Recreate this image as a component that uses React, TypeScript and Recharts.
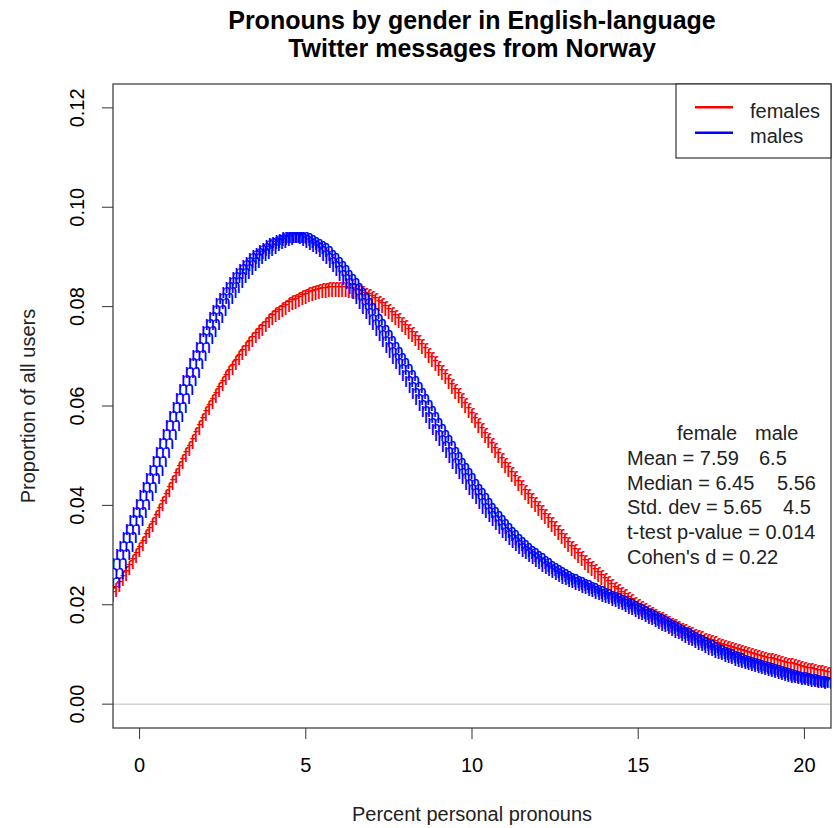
import { ScatterChart, Scatter, XAxis, YAxis, ReferenceLine } from 'recharts';

const FONT = '"Liberation Sans", Arial, sans-serif';

// density grid: x runs from -0.8 in steps of 0.1 (217 points)
const X_START = -0.8;
const X_STEP = 0.1;

// females, percent personal pronouns density
const FEMALE_DENSITY = [
  0.0220, 0.0230, 0.0241, 0.0252, 0.0263, 0.0274, 0.0286, 0.0298,
  0.0310, 0.0323, 0.0336, 0.0349, 0.0362, 0.0375, 0.0389, 0.0403, 0.0417, 0.0431,
  0.0445, 0.0459, 0.0473, 0.0487, 0.0501, 0.0515, 0.0529, 0.0543, 0.0557, 0.0571,
  0.0585, 0.0597, 0.0609, 0.0621, 0.0633, 0.0645, 0.0656, 0.0667, 0.0677, 0.0688,
  0.0698, 0.0707, 0.0716, 0.0725, 0.0734, 0.0742, 0.0749, 0.0756, 0.0764, 0.0771,
  0.0777, 0.0783, 0.0788, 0.0793, 0.0798, 0.0803, 0.0807, 0.0810, 0.0814, 0.0817,
  0.0820, 0.0823, 0.0825, 0.0828, 0.0830, 0.0832, 0.0833, 0.0834, 0.0835, 0.0835,
  0.0835, 0.0835, 0.0834, 0.0833, 0.0832, 0.0830, 0.0828, 0.0825, 0.0822, 0.0819,
  0.0815, 0.0811, 0.0806, 0.0801, 0.0796, 0.0790, 0.0784, 0.0778, 0.0771, 0.0764,
  0.0757, 0.0750, 0.0743, 0.0735, 0.0727, 0.0719, 0.0711, 0.0702, 0.0694, 0.0685,
  0.0676, 0.0667, 0.0658, 0.0648, 0.0639, 0.0629, 0.0620, 0.0610, 0.0600, 0.0590,
  0.0580, 0.0570, 0.0560, 0.0550, 0.0540, 0.0530, 0.0520, 0.0510, 0.0500, 0.0490,
  0.0480, 0.0471, 0.0462, 0.0453, 0.0444, 0.0435, 0.0426, 0.0417, 0.0409, 0.0401,
  0.0393, 0.0385, 0.0377, 0.0369, 0.0361, 0.0353, 0.0345, 0.0337, 0.0329, 0.0321,
  0.0313, 0.0306, 0.0299, 0.0292, 0.0285, 0.0278, 0.0272, 0.0266, 0.0260, 0.0254,
  0.0248, 0.0242, 0.0236, 0.0231, 0.0226, 0.0221, 0.0216, 0.0211, 0.0206, 0.0201,
  0.0196, 0.0192, 0.0188, 0.0184, 0.0180, 0.0176, 0.0172, 0.0169, 0.0165, 0.0162,
  0.0158, 0.0155, 0.0152, 0.0148, 0.0145, 0.0142, 0.0139, 0.0136, 0.0133, 0.0131,
  0.0128, 0.0126, 0.0123, 0.0121, 0.0118, 0.0116, 0.0114, 0.0111, 0.0109, 0.0107,
  0.0105, 0.0103, 0.0101, 0.0099, 0.0097, 0.0095, 0.0094, 0.0092, 0.0090, 0.0088,
  0.0087, 0.0085, 0.0083, 0.0081, 0.0080, 0.0078, 0.0077, 0.0075, 0.0074, 0.0072,
  0.0070, 0.0068, 0.0067, 0.0065, 0.0064, 0.0063, 0.0061, 0.0060, 0.0059,
];

// males
const MALE_DENSITY = [
  0.0245, 0.0263, 0.0282, 0.0300, 0.0317, 0.0334, 0.0351, 0.0368,
  0.0385, 0.0402, 0.0419, 0.0436, 0.0453, 0.0470, 0.0488, 0.0506, 0.0524, 0.0542,
  0.0560, 0.0578, 0.0596, 0.0614, 0.0632, 0.0650, 0.0667, 0.0684, 0.0701, 0.0718,
  0.0735, 0.0749, 0.0763, 0.0777, 0.0791, 0.0805, 0.0816, 0.0827, 0.0837, 0.0848,
  0.0858, 0.0866, 0.0874, 0.0882, 0.0889, 0.0896, 0.0902, 0.0907, 0.0912, 0.0917,
  0.0922, 0.0926, 0.0929, 0.0932, 0.0935, 0.0938, 0.0939, 0.0939, 0.0939, 0.0938,
  0.0936, 0.0933, 0.0929, 0.0925, 0.0921, 0.0916, 0.0910, 0.0903, 0.0896, 0.0888,
  0.0880, 0.0872, 0.0863, 0.0854, 0.0845, 0.0835, 0.0825, 0.0815, 0.0805, 0.0795,
  0.0785, 0.0774, 0.0763, 0.0752, 0.0741, 0.0730, 0.0718, 0.0707, 0.0695, 0.0684,
  0.0672, 0.0660, 0.0648, 0.0636, 0.0624, 0.0612, 0.0600, 0.0588, 0.0576, 0.0564,
  0.0552, 0.0541, 0.0529, 0.0518, 0.0506, 0.0495, 0.0484, 0.0474, 0.0463, 0.0453,
  0.0442, 0.0432, 0.0423, 0.0413, 0.0404, 0.0394, 0.0386, 0.0377, 0.0369, 0.0360,
  0.0352, 0.0345, 0.0338, 0.0331, 0.0324, 0.0318, 0.0313, 0.0307, 0.0302, 0.0297,
  0.0292, 0.0287, 0.0282, 0.0277, 0.0272, 0.0268, 0.0264, 0.0260, 0.0256, 0.0253,
  0.0250, 0.0247, 0.0244, 0.0241, 0.0238, 0.0235, 0.0232, 0.0229, 0.0226, 0.0223,
  0.0220, 0.0217, 0.0214, 0.0211, 0.0208, 0.0205, 0.0202, 0.0199, 0.0195, 0.0192,
  0.0189, 0.0186, 0.0182, 0.0179, 0.0175, 0.0172, 0.0169, 0.0165, 0.0162, 0.0158,
  0.0155, 0.0151, 0.0148, 0.0144, 0.0141, 0.0137, 0.0134, 0.0130, 0.0127, 0.0123,
  0.0120, 0.0117, 0.0113, 0.0110, 0.0107, 0.0104, 0.0101, 0.0099, 0.0096, 0.0093,
  0.0091, 0.0088, 0.0086, 0.0083, 0.0081, 0.0079, 0.0077, 0.0075, 0.0073, 0.0071,
  0.0069, 0.0067, 0.0065, 0.0063, 0.0061, 0.0059, 0.0058, 0.0056, 0.0054, 0.0053,
  0.0051, 0.0050, 0.0048, 0.0047, 0.0045, 0.0044, 0.0043, 0.0042, 0.0041,
];

const X_DOMAIN = [-0.8, 20.8];
const Y_DOMAIN = [-0.0048, 0.1248];
const X_TICKS = [0, 5, 10, 15, 20];
const Y_TICKS = [0, 0.02, 0.04, 0.06, 0.08, 0.1, 0.12];

const TITLE = ['Pronouns by gender in English-language', 'Twitter messages from Norway'];
const LEGEND = [
  { label: 'females', color: '#ff0000' },
  { label: 'males', color: '#0000ff' },
];

// summary table: left text, plus the male column where there is one
const STATS_HEADER = ['female', 'male'];
const STATS = [
  { text: 'Mean = 7.59', male: '6.5', maleX: 759 },
  { text: 'Median = 6.45', male: '5.56', maleX: 777 },
  { text: 'Std. dev = 5.65', male: '4.5', maleX: 783 },
  { text: 't-test p-value = 0.014' },
  { text: "Cohen's d = 0.22" },
];

const toPoints = (vals: number[]) =>
  vals.map((y, i) => ({ x: +(X_START + i * X_STEP).toFixed(1), y }));

const females = toPoints(FEMALE_DENSITY);
const males = toPoints(MALE_DENSITY);

// plot symbol drawn as a letter centred on the point (like pch = "f")
const letterShape = (ch: string, color: string, lift: number) => (props: any) => (
  <text
    x={props.cx}
    y={props.cy + lift}
    textAnchor="middle"
    fontSize={20}
    fontFamily={FONT}
    fill={color}
  >
    {ch}
  </text>
);

const XTick = (p: any) => (
  <text x={p.x} y={p.y + 24} textAnchor="middle" dominantBaseline="central"
    fontSize={20} fontFamily={FONT} fill="#000">
    {p.payload.value}
  </text>
);

const YTick = (p: any) => {
  const cx = p.x - 23;
  return (
    <text x={cx} y={p.y} transform={`rotate(-90 ${cx} ${p.y})`} textAnchor="middle"
      dominantBaseline="central" fontSize={20} fontFamily={FONT} fill="#000">
      {Number(p.payload.value).toFixed(2)}
    </text>
  );
};

export default function App() {
  const W = 836;
  const H = 828;
  return (
    <div style={{ position: 'fixed', left: 0, top: 0, width: W, height: H, background: '#fff' }}>
      <ScatterChart width={W} height={H} margin={{ top: 84, right: 5, bottom: 0, left: 0 }}>
        <XAxis
          type="number"
          dataKey="x"
          domain={X_DOMAIN}
          ticks={X_TICKS}
          allowDataOverflow
          height={100}
          axisLine={false}
          tickSize={11}
          tickLine={{ stroke: '#333', strokeWidth: 1 }}
          tick={XTick}
        />
        <YAxis
          type="number"
          dataKey="y"
          domain={Y_DOMAIN}
          ticks={Y_TICKS}
          allowDataOverflow
          width={113}
          axisLine={false}
          tickSize={11}
          tickLine={{ stroke: '#333', strokeWidth: 1 }}
          tick={YTick}
        />
        <ReferenceLine y={0} stroke="#bebebe" strokeWidth={1} />
        <Scatter data={females} isAnimationActive={false} shape={letterShape('f', '#ff0000', 7.3)} />
        <Scatter data={males} isAnimationActive={false} shape={letterShape('m', '#0000ff', 5.2)} />
      </ScatterChart>

      <svg width={W} height={H} style={{ position: 'absolute', left: 0, top: 0, pointerEvents: 'none' }}
        fontFamily={FONT}>
        {/* plot frame */}
        <rect x={113} y={84} width={718} height={644} fill="none" stroke="#333" strokeWidth={1.2} />

        {TITLE.map((t, i) => (
          <text key={t} x={472} y={28.5 + i * 28.5} textAnchor="middle" fontSize={25} fontWeight="bold" fill="#000">
            {t}
          </text>
        ))}

        <text x={472} y={821} textAnchor="middle" fontSize={20} fill="#222">Percent personal pronouns</text>
        <text x={35} y={406} transform="rotate(-90 35 406)" textAnchor="middle" fontSize={20} fill="#222">
          Proportion of all users
        </text>

        {/* legend */}
        <rect x={676} y={84} width={155} height={74} fill="#fff" stroke="#333" strokeWidth={1.2} />
        {LEGEND.map((l, i) => (
          <g key={l.label}>
            <line x1={695} x2={733} y1={107.3 + i * 25.4} y2={107.3 + i * 25.4} stroke={l.color} strokeWidth={2.5} />
            <text x={750} y={118 + i * 25.4} fontSize={20} fill="#222">{l.label}</text>
          </g>
        ))}

        {/* summary statistics */}
        <text x={677} y={440} fontSize={20} fill="#222">{STATS_HEADER[0]}</text>
        <text x={755} y={440} fontSize={20} fill="#222">{STATS_HEADER[1]}</text>
        {STATS.map((s, i) => (
          <g key={s.text}>
            <text x={627} y={464.8 + i * 24.8} fontSize={20} fill="#222">{s.text}</text>
            {s.male && (
              <text x={s.maleX} y={464.8 + i * 24.8} fontSize={20} fill="#222">{s.male}</text>
            )}
          </g>
        ))}
      </svg>
    </div>
  );
}
